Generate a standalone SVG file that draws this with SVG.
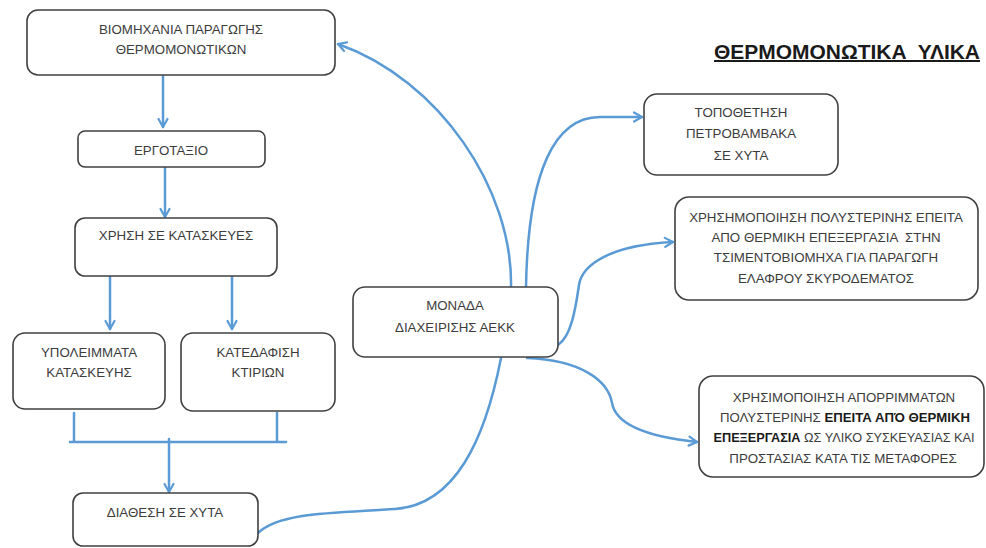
<svg xmlns="http://www.w3.org/2000/svg" width="986" height="548" viewBox="0 0 986 548">
<defs>
<style>
.box{fill:#fff;stroke:#404040;stroke-width:1.6}
.t{font-family:"Liberation Sans",Arial,sans-serif;font-size:13.3px;fill:#3c3c3c;text-anchor:middle;white-space:pre}
.b{font-weight:bold;fill:#1a1a1a}
.c{fill:none;stroke:#5b9bd5;stroke-width:2.5;stroke-linecap:round}
.title{font-family:"Liberation Sans",Arial,sans-serif;font-size:20px;font-weight:bold;fill:#1a1a1a;text-decoration:underline;white-space:pre}
</style>
<marker id="ah" viewBox="0 0 12 12" refX="10" refY="6" markerWidth="12" markerHeight="12" markerUnits="userSpaceOnUse" orient="auto">
<path d="M2,1.5 L10,6 L2,10.5" fill="none" stroke="#5b9bd5" stroke-width="2.2" stroke-linecap="round" stroke-linejoin="round"/>
</marker>
</defs>
<rect width="986" height="548" fill="#fff"/>

<text class="title" x="714" y="59" textLength="266" lengthAdjust="spacingAndGlyphs">ΘΕΡΜΟΜΟΝΩΤΙΚΑ  ΥΛΙΚΑ</text>

<g id="connectors">
<path class="c" d="M163,76 L163,127" marker-end="url(#ah)"/>
<path class="c" d="M165,167 L165,217" marker-end="url(#ah)"/>
<path class="c" d="M110,276 L110,329" marker-end="url(#ah)"/>
<path class="c" d="M232,276 L232,329" marker-end="url(#ah)"/>
<path class="c" d="M74,413 L74,441 M277,413 L277,441 M70,442 L286,442" stroke-linecap="butt"/>
<path class="c" d="M169,439 L169,492" marker-end="url(#ah)"/>
<path class="c" d="M511,287 C513,190 440,80 338,44" marker-end="url(#ah)"/>
<path class="c" d="M526,287 C528,170 555,117 600,117 L642,117" marker-end="url(#ah)"/>
<path class="c" d="M558,345 C572,336 576,305 579,285 S610,245 673,242" marker-end="url(#ah)"/>
<path class="c" d="M527,358 C580,360 608,380 612,403 S650,437 697,442" marker-end="url(#ah)"/>
<path class="c" d="M501,358 C485,440 455,505 395,509 S280,512 258,533"/>
</g>

<g id="n_biomixania">
<rect class="box" x="27" y="10" width="308" height="65" rx="11"/>
<text class="t" x="181" y="34">ΒΙΟΜΗΧΑΝΙΑ ΠΑΡΑΓΩΓΗΣ</text>
<text class="t" x="181" y="54">ΘΕΡΜΟΜΟΝΩΤΙΚΩΝ</text>
</g>
<g id="n_ergotaxio">
<rect class="box" x="78" y="131" width="187" height="36" rx="7"/>
<text class="t" x="171" y="155">ΕΡΓΟΤΑΞΙΟ</text>
</g>
<g id="n_xrisi">
<rect class="box" x="75" y="218" width="202" height="58" rx="10"/>
<text class="t" x="176" y="240">ΧΡΗΣΗ ΣΕ ΚΑΤΑΣΚΕΥΕΣ</text>
</g>
<g id="n_ypoleimmata">
<rect class="box" x="13" y="333" width="152" height="76" rx="12"/>
<text class="t" x="89" y="357">ΥΠΟΛΕΙΜΜΑΤΑ</text>
<text class="t" x="89" y="377">ΚΑΤΑΣΚΕΥΗΣ</text>
</g>
<g id="n_katedafisi">
<rect class="box" x="181" y="333" width="154" height="78" rx="12"/>
<text class="t" x="258" y="357">ΚΑΤΕΔΑΦΙΣΗ</text>
<text class="t" x="258" y="377">ΚΤΙΡΙΩΝ</text>
</g>
<g id="n_diathesi">
<rect class="box" x="73" y="493" width="185" height="53" rx="10"/>
<text class="t" x="165" y="517">ΔΙΑΘΕΣΗ ΣΕ ΧΥΤΑ</text>
</g>
<g id="n_monada">
<rect class="box" x="353" y="287" width="205" height="70" rx="12"/>
<text class="t" x="455" y="310">ΜΟΝΑΔΑ</text>
<text class="t" x="455" y="332">ΔΙΑΧΕΙΡΙΣΗΣ ΑΕΚΚ</text>
</g>
<g id="n_topothetisi">
<rect class="box" x="644" y="94" width="194" height="81" rx="13"/>
<text class="t" x="741" y="117">ΤΟΠΟΘΕΤΗΣΗ</text>
<text class="t" x="741" y="138">ΠΕΤΡΟΒΑΜΒΑΚΑ</text>
<text class="t" x="741" y="160">ΣΕ ΧΥΤΑ</text>
</g>
<g id="n_skyrodema">
<rect class="box" x="675" y="197" width="303" height="103" rx="14"/>
<text class="t" x="826" y="222">ΧΡΗΣΗΜΟΠΟΙΗΣΗ ΠΟΛΥΣΤΕΡΙΝΗΣ ΕΠΕΙΤΑ</text>
<text class="t" x="826" y="242">ΑΠΟ ΘΕΡΜΙΚΗ ΕΠΕΞΕΡΓΑΣΙΑ  ΣΤΗΝ</text>
<text class="t" x="826" y="262">ΤΣΙΜΕΝΤΟΒΙΟΜΗΧΑ ΓΙΑ ΠΑΡΑΓΩΓΗ</text>
<text class="t" x="826" y="283">ΕΛΑΦΡΟΥ ΣΚΥΡΟΔΕΜΑΤΟΣ</text>
</g>
<g id="n_syskevasia">
<rect class="box" x="699" y="376" width="285" height="101" rx="14"/>
<text class="t" x="844" y="402">ΧΡΗΣΙΜΟΠΟΙΗΣΗ ΑΠΟΡΡΙΜΜΑΤΩΝ</text>
<text class="t" x="845" y="422" textLength="250" lengthAdjust="spacingAndGlyphs">ΠΟΛΥΣΤΕΡΙΝΗΣ <tspan class="b">ΕΠΕΙΤΑ ΑΠΌ ΘΕΡΜΙΚΗ</tspan></text>
<text class="t" x="844" y="442" textLength="261" lengthAdjust="spacingAndGlyphs"><tspan class="b">ΕΠΕΞΕΡΓΑΣΙΑ</tspan> ΩΣ ΥΛΙΚΟ ΣΥΣΚΕΥΑΣΙΑΣ ΚΑΙ</text>
<text class="t" x="843" y="463">ΠΡΟΣΤΑΣΙΑΣ ΚΑΤΑ ΤΙΣ ΜΕΤΑΦΟΡΕΣ</text>
</g>
</svg>
